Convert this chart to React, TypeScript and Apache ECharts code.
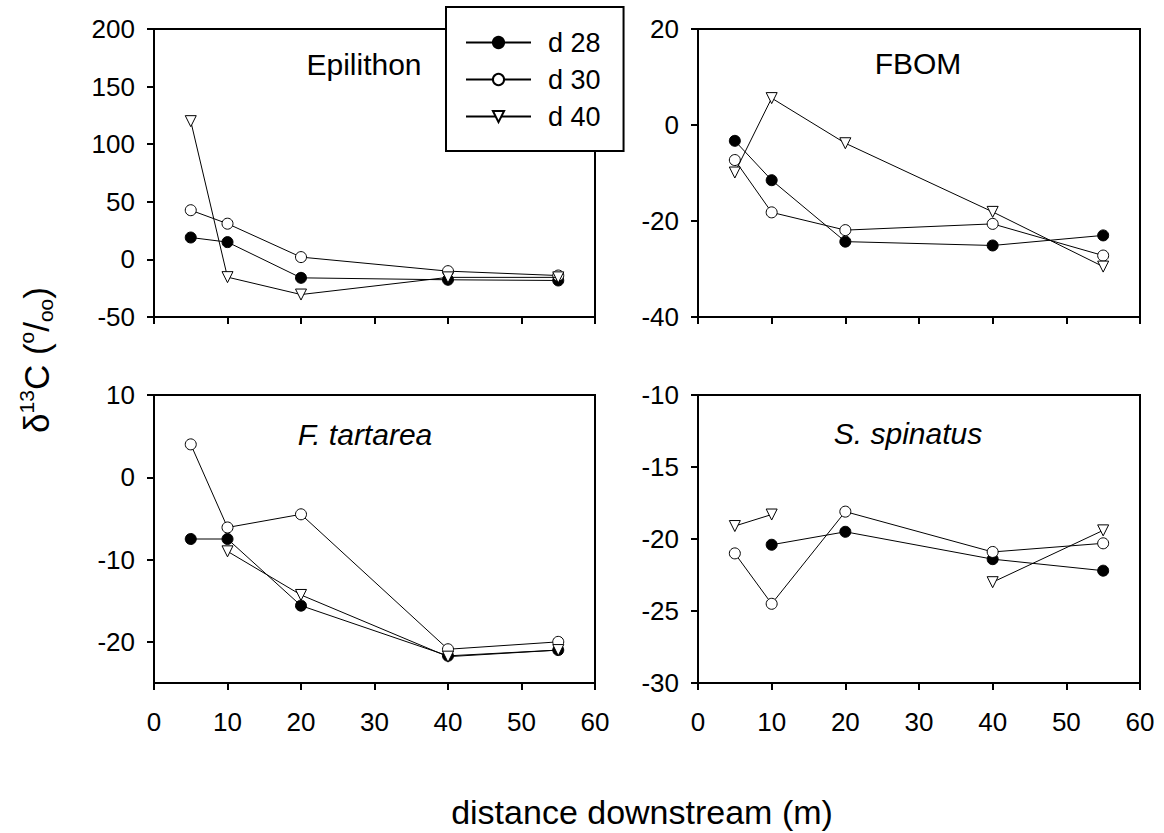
import React, { useEffect, useRef } from "react";
import * as echarts from "echarts";

const FONT = '"Liberation Sans", Arial, Helvetica, sans-serif';

// distance downstream (m)
const distances = [5, 10, 20, 40, 55];
const xTicks = [0, 10, 20, 30, 40, 50, 60];

// Epilithon
const epilithonD28 = [19, 15, -16, -17.7, -18.3];
const epilithonD30 = [42.7, 31, 2, -10.2, -14];
const epilithonD40 = [120, -15.4, -30.5, -15.6, -15.6];
// FBOM
const fbomD28 = [-3.3, -11.5, -24.3, -25.1, -23];
const fbomD30 = [-7.3, -18.2, -21.9, -20.6, -27.2];
const fbomD40 = [-9.9, 5.6, -3.8, -18.1, -29.5];
// F. tartarea
const tartareaD28 = [-7.5, -7.5, -15.6, -21.7, -21.0];
const tartareaD30 = [4.0, -6.1, -4.5, -20.9, -20.0];
const tartareaD40 = [null, -9.0, -14.3, -21.8, -21.0];
// S. spinatus
const spinatusD28 = [null, -20.4, -19.5, -21.4, -22.2];
const spinatusD30 = [-21.0, -24.5, -18.1, -20.9, -20.3];
const spinatusD40 = [-19.1, -18.3, null, -23.0, -19.4];

const seriesNames = ["d 28", "d 30", "d 40"];
const panelTitles = ["Epilithon", "FBOM", "F. tartarea", "S. spinatus"];
const panelItalic = [false, false, true, true];

// y-axis ranges and tick labels
const yMins = [-50, -40, -25, -30];
const yMaxs = [200, 20, 10, -10];
const yTicksEpilithon = [-50, 0, 50, 100, 150, 200];
const yTicksFbom = [-40, -20, 0, 20];
const yTicksTartarea = [-20, -10, 0, 10];
const yTicksSpinatus = [-30, -25, -20, -15, -10];

const panelData = [
  [epilithonD28, epilithonD30, epilithonD40],
  [fbomD28, fbomD30, fbomD40],
  [tartareaD28, tartareaD30, tartareaD40],
  [spinatusD28, spinatusD30, spinatusD40],
];
const panelYTicks = [yTicksEpilithon, yTicksFbom, yTicksTartarea, yTicksSpinatus];

// layout (pixels)
const grids = [
  { left: 154, top: 29, width: 441, height: 288 },
  { left: 698, top: 29, width: 442, height: 288 },
  { left: 154, top: 395, width: 441, height: 288 },
  { left: 698, top: 395, width: 442, height: 288 },
];
const titlePos = [
  [364, 64],
  [918, 63],
  [365, 434],
  [908, 433],
];

const seriesStyles = [
  { symbol: "circle", symbolRotate: 0, fill: "#000" },
  { symbol: "circle", symbolRotate: 0, fill: "#fff" },
  { symbol: "triangle", symbolRotate: 180, fill: "#fff" },
];

export default function App() {
  const ref = useRef<HTMLDivElement>(null);

  useEffect(() => {
    if (!ref.current) return;
    const chart = echarts.init(ref.current, undefined, { renderer: "svg" });

    const xAxis = grids.map((_, i) => ({
      gridIndex: i,
      type: "value",
      min: 0,
      max: 60,
      interval: 10,
      axisLine: { show: true, onZero: false, lineStyle: { color: "#000", width: 2 } },
      axisTick: {
        show: true,
        inside: false,
        length: 7,
        customValues: xTicks,
        lineStyle: { color: "#000", width: 2 },
      },
      axisLabel: {
        show: i >= 2,
        fontSize: 26,
        color: "#000",
        margin: 26,
        fontFamily: FONT,
        customValues: xTicks,
      },
      splitLine: { show: false },
    }));

    const yAxis = grids.map((_, i) => ({
      gridIndex: i,
      type: "value",
      min: yMins[i],
      max: yMaxs[i],
      axisLine: { show: true, onZero: false, lineStyle: { color: "#000", width: 2 } },
      axisTick: {
        show: true,
        inside: false,
        length: 7,
        customValues: panelYTicks[i],
        lineStyle: { color: "#000", width: 2 },
      },
      axisLabel: {
        show: true,
        fontSize: 26,
        color: "#000",
        margin: 19,
        fontFamily: FONT,
        customValues: panelYTicks[i],
      },
      splitLine: { show: false },
    }));

    const series: any[] = [];
    panelData.forEach((sets, p) => {
      sets.forEach((vals, s) => {
        const st = seriesStyles[s];
        series.push({
          type: "line",
          name: seriesNames[s],
          xAxisIndex: p,
          yAxisIndex: p,
          data: distances.map((d, k) => [d, vals[k] === null ? "-" : vals[k]]),
          connectNulls: false,
          symbol: st.symbol,
          symbolRotate: st.symbolRotate,
          symbolSize: 11,
          showSymbol: true,
          lineStyle: { color: "#000", width: 1 },
          itemStyle: { color: st.fill, borderColor: "#000", borderWidth: 1 },
          emphasis: { disabled: true },
          silent: true,
          z: 3 + s,
        });
      });
    });

    const graphic: any[] = panelTitles.map((t, i) => ({
      type: "text",
      x: titlePos[i][0],
      y: titlePos[i][1],
      silent: true,
      style: {
        text: t,
        fontSize: 30,
        fontStyle: panelItalic[i] ? "italic" : "normal",
        fontFamily: FONT,
        fill: "#000",
        align: "center",
        verticalAlign: "middle",
      },
    }));

    graphic.push({
      type: "text",
      x: 642,
      y: 812,
      silent: true,
      style: {
        text: "distance downstream (m)",
        fontSize: 34,
        fontFamily: FONT,
        fill: "#000",
        align: "center",
        verticalAlign: "middle",
      },
    });

    graphic.push({
      type: "text",
      x: 36,
      y: 360,
      rotation: Math.PI / 2,
      silent: true,
      style: {
        text: "{a|δ}{sup|13}{a|C (}{sup|o}{a|/}{sub|oo}{a|)}",
        fontFamily: FONT,
        fill: "#000",
        align: "center",
        verticalAlign: "middle",
        rich: {
          a: { fontSize: 35, fontFamily: FONT, fill: "#000", lineHeight: 40 },
          sup: { fontSize: 21, fontFamily: FONT, fill: "#000", verticalAlign: "top", lineHeight: 40, padding: [0, 0, 16, 0] },
          sub: { fontSize: 21, fontFamily: FONT, fill: "#000", verticalAlign: "bottom", lineHeight: 40, padding: [8, 0, 0, 0] },
        },
      },
    });

    chart.setOption({
      animation: false,
      backgroundColor: "#fff",
      grid: grids.map((g) => ({
        ...g,
        show: true,
        borderColor: "#000",
        borderWidth: 2,
        containLabel: false,
      })),
      xAxis,
      yAxis,
      series,
      legend: {
        show: true,
        data: seriesNames,
        orient: "vertical",
        left: 446,
        top: 7,
        padding: [22, 23, 21, 19],
        itemWidth: 65,
        itemHeight: 14,
        itemGap: 10,
        selectedMode: false,
        backgroundColor: "#fff",
        borderColor: "#000",
        borderWidth: 2,
        borderRadius: 0,
        z: 10,
        textStyle: {
          fontSize: 27,
          color: "#000",
          fontFamily: FONT,
          padding: [0, 0, 0, 12],
        },
      },
      graphic,
    });

    return () => chart.dispose();
  }, []);

  return (
    <div
      ref={ref}
      style={{ position: "absolute", left: 0, top: 0, width: 1164, height: 833 }}
    />
  );
}
